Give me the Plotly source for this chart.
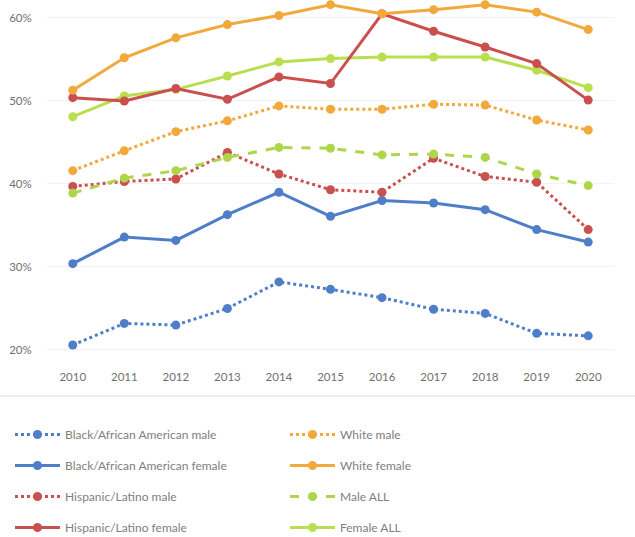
import plotly.graph_objects as go

years = [2010, 2011, 2012, 2013, 2014, 2015, 2016, 2017, 2018, 2019, 2020]
year_labels = [str(y) for y in years]

black_male = [20.6, 23.2, 23.0, 25.0, 28.2, 27.3, 26.3, 24.9, 24.4, 22.0, 21.7]
black_female = [30.4, 33.6, 33.2, 36.3, 39.0, 36.1, 38.0, 37.7, 36.9, 34.5, 33.0]
hisp_male = [39.7, 40.3, 40.6, 43.8, 41.2, 39.3, 39.0, 43.1, 40.9, 40.2, 34.5]
hisp_female = [50.4, 50.0, 51.5, 50.2, 52.9, 52.1, 60.5, 58.4, 56.5, 54.5, 50.1]
white_male = [41.6, 44.0, 46.3, 47.6, 49.4, 49.0, 49.0, 49.6, 49.5, 47.7, 46.5]
white_female = [51.3, 55.2, 57.6, 59.2, 60.3, 61.6, 60.5, 61.0, 61.6, 60.7, 58.6]
male_all = [38.9, 40.7, 41.6, 43.2, 44.4, 44.3, 43.5, 43.6, 43.2, 41.2, 39.8]
female_all = [48.1, 50.6, 51.4, 53.0, 54.7, 55.1, 55.3, 55.3, 55.3, 53.7, 51.6]

y_ticks = [20, 30, 40, 50, 60]
y_tick_labels = ["20%", "30%", "40%", "50%", "60%"]

BLUE = "#4f7ec9"
RED = "#c9504e"
ORANGE = "#f2a93c"
GREEN_D = "#aed64a"
GREEN_S = "#b9df50"

series = [
    ("Black/African American male", black_male, BLUE, "dot", "legend"),
    ("Black/African American female", black_female, BLUE, "solid", "legend"),
    ("Hispanic/Latino male", hisp_male, RED, "dot", "legend"),
    ("Hispanic/Latino female", hisp_female, RED, "solid", "legend"),
    ("White male", white_male, ORANGE, "dot", "legend2"),
    ("White female", white_female, ORANGE, "solid", "legend2"),
    ("Male ALL", male_all, GREEN_D, "dash", "legend2"),
    ("Female ALL", female_all, GREEN_S, "solid", "legend2"),
]

fig = go.Figure()
order = [0, 1, 2, 4, 6, 7, 3, 5]
for i in order:
    name, vals, col, dash, leg = series[i]
    fig.add_trace(go.Scatter(
        x=year_labels, y=vals, name=name, mode="lines+markers",
        line=dict(color=col, width=3, dash=dash),
        marker=dict(color=col, size=9),
        legend=leg, legendgroup=name, legendrank=i, cliponaxis=False,
    ))

W, H = 635, 537
legend_top = (H - 420) / H
fig.update_layout(
    width=W, height=H,
    margin=dict(l=47, r=21, t=3, b=175, autoexpand=False),
    paper_bgcolor="white", plot_bgcolor="white",
    font=dict(family="Lato, Open Sans, sans-serif", color="#808080", size=12),
    xaxis=dict(type="category", range=[-0.5, 10.5], showgrid=False, zeroline=False,
               showline=False, tickfont=dict(size=11.5, color="#707070"),
               ticks="outside", ticklen=4, tickcolor="rgba(0,0,0,0)",
               tickangle=0, automargin=False),
    yaxis=dict(range=[18.55, 61.8], tickvals=y_ticks, ticktext=y_tick_labels,
               showgrid=True, gridcolor="#f3f3f3", zeroline=False, showline=False,
               tickfont=dict(size=11.5, color="#707070"),
               ticks="outside", ticklen=12, tickcolor="rgba(0,0,0,0)",
               automargin=False),
    legend=dict(xref="container", yref="container", x=10 / W, y=legend_top,
                xanchor="left", yanchor="top", tracegroupgap=12, itemwidth=45,
                font=dict(size=12, color="#808080"), bgcolor="rgba(0,0,0,0)"),
    legend2=dict(xref="container", yref="container", x=285 / W, y=legend_top,
                 xanchor="left", yanchor="top", tracegroupgap=12, itemwidth=45,
                 font=dict(size=12, color="#808080"), bgcolor="rgba(0,0,0,0)"),
    shapes=[dict(type="line", xref="paper", yref="paper",
                 x0=-47 / 567, x1=(W - 47) / 567, y0=(362 - 396) / 359, y1=(362 - 396) / 359,
                 line=dict(color="#d9d9d9", width=1))],
)

fig.write_html("out.html", config={"displayModeBar": False},
               post_script="document.body.style.margin='0px';")
